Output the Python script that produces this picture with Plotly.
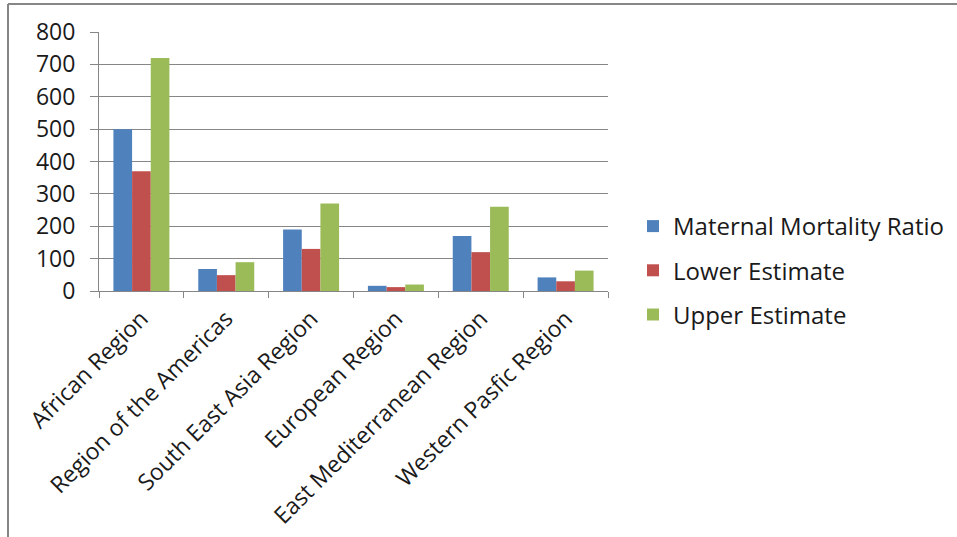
import plotly.graph_objects as go

categories = ["African Region", "Region of the Americas", "South East Asia Region",
              "European Region", "East Mediterranean Region", "Western Pasfic Region"]
mmr = [500, 68, 190, 16, 170, 42]
lower = [370, 49, 130, 12, 120, 30]
upper = [720, 89, 270, 20, 260, 63]
series_names = ["Maternal Mortality Ratio", "Lower Estimate", "Upper Estimate"]
colors = ["#4F81BD", "#C0504D", "#9BBB59"]
y_ticks = [0, 100, 200, 300, 400, 500, 600, 700, 800]

FONT = "Open Sans, Carlito, Calibri, sans-serif"

fig = go.Figure()
for i, (name, vals, col) in enumerate(zip(series_names, [mmr, lower, upper], colors)):
    fig.add_trace(go.Bar(x=categories, y=vals, name=name, marker_color=col,
                         marker_line_width=0, legendgroup=f"g{i}"))

W, H = 957, 537
L, R, T, B = 99, 349, 32, 246
pw, ph = W - L - R, H - T - B

def px_x(x):
    return (x - L) / pw

def px_y(y):
    return (H - B - y) / ph

fig.update_layout(
    width=W, height=H,
    margin=dict(l=L, r=R, t=T, b=B, autoexpand=False),
    paper_bgcolor="white", plot_bgcolor="white",
    barmode="group", bargap=0.34, bargroupgap=0,
    font=dict(family=FONT, size=21, color="#1a1a1a"),
    showlegend=True,
    legend=dict(x=px_x(633), y=px_y(204), xanchor="left", yanchor="top",
                font=dict(size=24, family=FONT), tracegroupgap=10,
                itemwidth=30, bgcolor="rgba(0,0,0,0)", traceorder="grouped"),
    xaxis=dict(showline=True, linecolor="#868686", linewidth=1,
               ticks="outside", ticklen=6, tickcolor="#868686", tickson="boundaries",
               tickangle=-45, tickfont=dict(size=23, family=FONT),
               ticklabelstandoff=4, showgrid=False),
    yaxis=dict(range=[0, 800], tickvals=y_ticks, showline=True, linecolor="#868686",
               linewidth=1, ticks="outside", ticklen=8, tickcolor="#868686",
               showgrid=True, gridcolor="#868686", gridwidth=1, zeroline=False,
               tickfont=dict(size=23, family=FONT), ticklabelstandoff=10),
    shapes=[
        dict(type="line", xref="paper", yref="paper", x0=px_x(8), x1=px_x(957),
             y0=px_y(4), y1=px_y(4), line=dict(color="#868686", width=2)),
        dict(type="line", xref="paper", yref="paper", x0=px_x(8), x1=px_x(8),
             y0=px_y(4), y1=px_y(537), line=dict(color="#868686", width=2)),
    ],
)

fig.write_html("out.html")
